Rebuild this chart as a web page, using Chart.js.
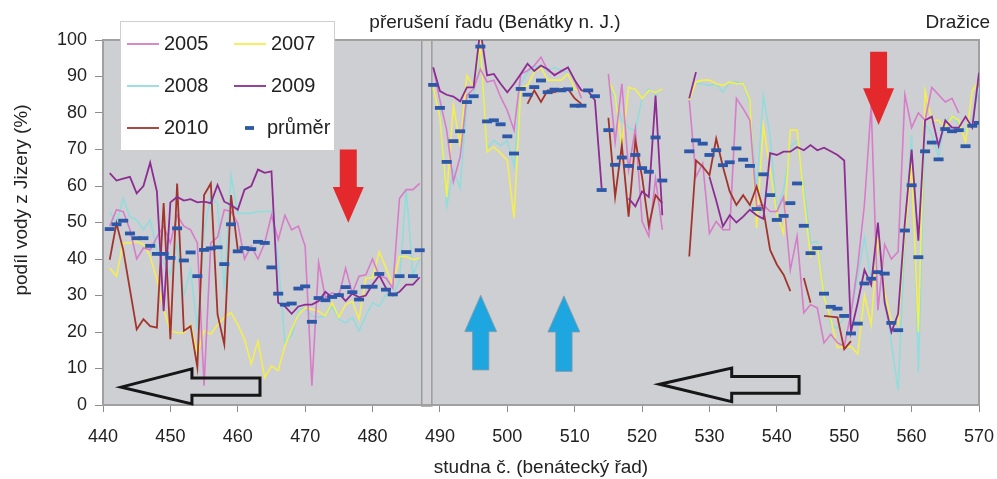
<!DOCTYPE html>
<html>
<head>
<meta charset="utf-8">
<script src="https://cdn.jsdelivr.net/npm/chart.js@4.4.1/dist/chart.umd.min.js"></script>
<style>
  html, body { margin: 0; padding: 0; background: #fff; }
  #wrap { width: 997px; height: 479px; position: relative; }
</style>
</head>
<body>
<div id="wrap"><canvas id="chart"></canvas></div>
<script>
const gap = n => Array(n).fill(null);

// well numbers 441..570 (488 and 524-526 have no data)
const wells = Array.from({length: 130}, (_, i) => 441 + i);

const y2005 = [
    49, 53.5, 53, 48, 40, 43, 42.5, 46, 49, 44.4,
    52, 49, 48, 44.4, 5.3, 44.4, 46, 53.5, 53, 49.8,
    40, 43.5, 40, 44.4, 52, 45.3, 52, 48, 49, 43.5,
    5.3, 39, 29.4, 30.7, 29.8, 37.5, 30.7, 35.3, 35.7, 40,
    35.3, 34.8, 32, 56.6, 59, 59, 60.7,
    null,
    92.5, 83.5, 75.3, 61.2, 68, 84.8, 86.6, 92, 88.5, 89,
    84.4, 80.7, 75.3, 90.7, 91.6, 93, 95.3, 91.6, 90.7, 91.2,
    92.5, 89, 84, null, null, null,
    90.7, 72, 88, 64.4, 75.7, 50.3, 46.2, 62, 48,
    null, null, null,
    83.5, 62.5, 66.2, 47, 50.3, 48, 48, 84, 81.2, 78,
    54.4, 54.8, 53, 53, 57, 37, 46.2, 25.3, 27.5, 26.6,
    17, 19.4, 17, 16.2, 25, 38, 55, 82, 26, 44,
    40, 42, 85, 76, 80, 78, 87, 85, 83, 84,
    80, null, null, null
];

const y2007 = [
    37.5, 35.3, 44.4, 44.4, 44.8, 44, 40.7, 34.4, 26.2, 20.3,
    19.8, 19.8, 22, 14, 20.3, 19.4, 22, 24, 25.3, 22,
    18, 11.2, 17.5, 7.5, 10.7, 9.4, 16.2, 20.7, 24.8, 26.6,
    26.2, 25.7, 24.4, 28, 24, 27.5, 28.4, 23.5, 34.8, 34.8,
    42, 37.5, 33, 40.7, 40.7, 39.8, 40.3,
    null,
    87, 79, 57, 82, 71.2, 90.3, 87, 98.5, 69.4, 70.7,
    69, 67, 51.2, 87, 87.5, 91.2, 92.5, 89, 89, 89,
    90.7, 86.6, 85.7, null, null, null,
    89, 84.8, 70.7, 87, 86.5, 84, 86.2, 85.5, 86.6,
    null, null, null,
    83.5, 88.5, 89, 89, 88, 87.5, 88.5, 88, 88, 83.5,
    48.5, 76.6, 64.4, 52.5, 47, 75.3, 75.3, 57, 40.7, 43.5,
    29.8, 23.5, 15.7, 16, 16, 14, 30, 22, 46, 31,
    23, 22, 47, 66, 20, 86, 78, 78, 76, 79,
    78, 72, 86, 89
];

const y2008 = [
    53, 49.8, 56.6, 51.6, 50.7, 48, 50.7, 42.5, 39, 36,
    44, 30, 37, 20.7, 48, 57, 55, 31.6, 63, 52.5,
    52.5, 52.5, 53, 53, 53, 40, 17, 19, 26, 26.6,
    24.4, 24, 24.4, 27, 23.5, 22.5, 24, 20.3, 24.4, 28,
    27, 30.3, 30, 34, 59, 35.7, 40,
    null,
    86.6, 80.7, 54.4, 64.4, 59.4, 83, 84.4, 97, 70.3, 72.5,
    71, 72.5, 65.3, 88, 91.2, 92.5, 93, 91.6, 92.5, 91.6,
    91.2, 86.2, null, null, null, null,
    88, 84, 78, 76, 75, 84, 86.6, 85, 86.6,
    null, null, null,
    null, 88, 88, 87.5, 88, 85.7, 88.5, 88.5, 88, 82.5,
    59, 84.8, 73.5, 53, 59, 70.7, 72.5, 59.8, 44.4, 44.8,
    31.2, 22, 21, 24, 25, 35, 46, 34, 45, 30,
    17, 4, 45, 74, 9, 77, 74, 68, 78, 79,
    77, 75, 78, 87
];

const y2009 = [
    63.5, 61.5, 62, 62.5, 58, 60, 66.4, 58.5, 25.7, 55.5,
    57, 56, 56.4, 55.5, 55.7, 55.3, 60.3, 55.7, 54.8, 53.5,
    59, 60, 64.5, 63.6, 64, 28, 27, 25, 27, 27.5,
    27.5, 28.5, 31, 29.5, 30.5, 28.5, 30.5, 29.5, 30, 33,
    35.5, 32, 30, 31, 33, 33, 35,
    null,
    92.5, 86, 85, 84.5, 83.2, 87, 87, 103, 90.3, 90.7,
    88, 85.7, 88, 90.7, 93.5, 91.5, 93, 92, 90.3, 91.5,
    92.5, 89, 86.2, 86, 83.5, 59.4,
    null, null, null,
    56.6, 54.4, 58.5, 57, 84.8, 52,
    null, null, null,
    84, 91.2, null, 62.5, 56, 49, 52, 50, 51.6, 53.5,
    52, 51, 69, 68.5, 69.4, 69.4, 70.7, 69.8, 71.2, 69.8,
    70.5, 69.5, 68.5, 67, 20, 28, 37, 33, 50, 28,
    20, 25, 50, 70, 45, 78, 79, 71, 78, 76,
    76, 79, 76, 91
];

const y2010 = [
    39.8, 49.8, 42.5, 31.6, 20.7, 23.5, 21.6, 21.2, 55.3, 18,
    60.7, 20.3, 21.6, 10.3, 57.5, 60.7, 24.8, 16.6, 57.5, 42.5,
    ...gap(27),
    null,
    ...gap(14),
    82.5, 86.2, 83, 86.2, 85.7, 86.6, 86.6, 84, 82.5,
    null, null, null,
    78.7, 57, 71.2, 51.6, 72.5, 62.5, 49, 57.5, 55.3,
    null, null, null,
    40.7, 67, 65.3, 63, 73, 65.3, 58.5, 54.8, 57.5, 54.8,
    59.8, 53.5, 42.5, 38.5, 35.7, 31.2, null, 34.8, 28, null,
    24.4, 24.2, 24, 15.3, 17.5,
    ...gap(19)
];

const prumer = [
    48.2, 49.5, 50.5, 47, 45.7, 45.7, 43.6, 41.4, 41.4, 40.3,
    48.4, 39.6, 41.8, 35.3, 42.5, 42.9, 43.2, 38.6, 49.5, 42.1,
    43, 42.7, 44.7, 44.4, 37.7, 30.5, 27.5, 27.8, 31.9, 32.5,
    22.8, 29.3, 28.7, 29.6, 30.1, 32.3, 30.9, 28.9, 32.4, 32.4,
    35.9, 31.6, 30.3, 35.3, 41.9, 35.3, 42.4,
    null,
    87.7, 81.4, 66.6, 72.3, 75, 83, 84.6, 98.2, 77.7, 78,
    76.9, 73.6, 68.9, 86.6, 85, 87.1, 88.9, 85.7, 86.4, 86.2,
    86.5, 82, 82, 86.2, 84.6, 58.9, 75.3, 65.8, 67.8, 65.5,
    68.5, 64.9, 63.9, 73.3, 61.5,
    null, null, null,
    69.5, 72.5, 71.6, 68.5, 69.8, 65.7, 66.5, 70.3, 67.2, 65.5,
    53.7, 63.2, 57.5, 50.7, 51.8, 55.3, 60.7, 49.1, 41.6, 43,
    30.5, 26.9, 26.4, 24.4, 19.6, 22.3, 33.3, 34.6, 36.4, 36,
    22.5, 20.5, 47.8, 60.2, 40.5, 69.5, 71.9, 67.3, 75.6, 75,
    75.3, 70.9, 76.5, 77.3
];

const xTicks = [440, 570, 10];
const yTicks = [0, 100, 10];

// arrows drawn over the plot (well number / percent)
const redArrows = [
    {x: 476.4, top: 70, neck: 59.7, tip: 49.9},
    {x: 555.1, top: 96.8, neck: 86.8, tip: 76.7}
];
const blueArrows = [
    {x: 496.05, tip: 30.1, neck: 20.1, bottom: 9.6},
    {x: 508.4, tip: 29.9, neck: 20.0, bottom: 9.2}
];
const leftArrows = [
    {tip: 442.7, neck: 453.2, end: 463.3, mid: 4.9, headTop: 9.9, headBot: 0.3, shaftTop: 7.4, shaftBot: 2.7},
    {tip: 522.6, neck: 533.3, end: 543.3, mid: 5.7, headTop: 10.1, headBot: 0.9, shaftTop: 7.8, shaftBot: 3.2}
];

const FONT = "'Liberation Sans', Arial, sans-serif";
const colors = {
    '2005': '#d67cc8',
    '2007': '#f4ee50',
    '2008': '#93dcdc',
    '2009': '#8d2c92',
    '2010': '#a3342c',
    'průměr': '#2d57a7'
};

const pts = vals => wells.map((w, i) => ({x: w, y: vals[i]}));
const lineSet = (label, vals, width) => ({
    label: label,
    data: pts(vals),
    borderColor: colors[label],
    backgroundColor: colors[label],
    borderWidth: width,
    pointRadius: 0,
    tension: 0
});

function poly(ctx, points) {
    ctx.beginPath();
    points.forEach((p, i) => i ? ctx.lineTo(p[0], p[1]) : ctx.moveTo(p[0], p[1]));
    ctx.closePath();
}

const decorations = {
    id: "decorations",
    beforeDatasetsDraw(chart) {
        const {ctx, chartArea: a, scales: {x}} = chart;
        ctx.save();
        ctx.fillStyle = "#cecfd3";
        ctx.fillRect(a.left, a.top, a.right - a.left, a.bottom - a.top);
        const s1 = x.getPixelForValue(487.3), s2 = x.getPixelForValue(488.8);
        ctx.fillStyle = "#d2d2d5";
        ctx.fillRect(s1, a.top, s2 - s1, a.bottom - a.top + 1);
        ctx.strokeStyle = "#9c9c9c";
        ctx.lineWidth = 1.5;
        ctx.strokeRect(s1, a.top, s2 - s1, a.bottom - a.top + 1);
        ctx.strokeStyle = "#a0a0a0";
        ctx.lineWidth = 2;
        ctx.strokeRect(a.left, a.top, a.right - a.left, a.bottom - a.top);
        ctx.restore();
    },
    afterDatasetsDraw(chart) {
        const {ctx, scales: {x, y}} = chart;
        ctx.save();
        redArrows.forEach(r => {
            const cx = x.getPixelForValue(r.x);
            const t = y.getPixelForValue(r.top), n = y.getPixelForValue(r.neck), p = y.getPixelForValue(r.tip);
            poly(ctx, [[cx - 8.5, t], [cx + 8.5, t], [cx + 8.5, n], [cx + 15.5, n], [cx, p], [cx - 15.5, n], [cx - 8.5, n]]);
            ctx.fillStyle = "#e3292b";
            ctx.fill();
        });
        blueArrows.forEach(b => {
            const cx = x.getPixelForValue(b.x);
            const t = y.getPixelForValue(b.tip), n = y.getPixelForValue(b.neck), bt = y.getPixelForValue(b.bottom);
            poly(ctx, [[cx, t], [cx + 16, n], [cx + 8.2, n], [cx + 8.2, bt], [cx - 8.2, bt], [cx - 8.2, n], [cx - 16, n]]);
            ctx.fillStyle = "#1ea6e0";
            ctx.fill();
            ctx.strokeStyle = "#8a9aa6";
            ctx.lineWidth = 0.8;
            ctx.stroke();
        });
        leftArrows.forEach(l => {
            const tx = x.getPixelForValue(l.tip), nx = x.getPixelForValue(l.neck), ex = x.getPixelForValue(l.end);
            poly(ctx, [
                [tx, y.getPixelForValue(l.mid)],
                [nx, y.getPixelForValue(l.headTop)],
                [nx, y.getPixelForValue(l.shaftTop)],
                [ex, y.getPixelForValue(l.shaftTop)],
                [ex, y.getPixelForValue(l.shaftBot)],
                [nx, y.getPixelForValue(l.shaftBot)],
                [nx, y.getPixelForValue(l.headBot)]
            ]);
            ctx.strokeStyle = "#161616";
            ctx.lineWidth = 3;
            ctx.lineJoin = "miter";
            ctx.stroke();
        });
        ctx.restore();
    },
    afterDraw(chart) {
        const ctx = chart.ctx;
        ctx.save();
        // legend box
        ctx.fillStyle = "#fff";
        ctx.fillRect(120, 21, 214, 129);
        ctx.strokeStyle = "#cfcfcf";
        ctx.lineWidth = 1;
        ctx.strokeRect(120.5, 21.5, 214, 129);
        const items = [["2005", 0, 0], ["2007", 1, 0], ["2008", 0, 1], ["2009", 1, 1], ["2010", 0, 2], ["průměr", 1, 2]];
        ctx.font = "20px " + FONT;
        ctx.textBaseline = "middle";
        ctx.textAlign = "left";
        items.forEach(([label, col, row]) => {
            const lx = col ? 234 : 127;
            const ly = 44 + row * 42;
            ctx.strokeStyle = colors[label];
            if (label === "průměr") {
                ctx.lineWidth = 3.8;
                ctx.beginPath(); ctx.moveTo(245, ly); ctx.lineTo(254, ly); ctx.stroke();
                ctx.fillStyle = "#222";
                ctx.fillText(label, 267, ly);
            } else {
                ctx.lineWidth = 1.8;
                ctx.beginPath(); ctx.moveTo(lx, ly); ctx.lineTo(lx + 32, ly); ctx.stroke();
                ctx.fillStyle = "#222";
                ctx.fillText(label, lx + 37, ly);
            }
        });
        ctx.font = "19px " + FONT;
        ctx.fillStyle = "#222";
        ctx.textAlign = "center";
        ctx.fillText("přerušení řadu (Benátky n. J.)", 495, 23);
        ctx.textAlign = "right";
        ctx.fillText("Dražice", 990, 23);
        // y axis title
        ctx.translate(22, 200);
        ctx.rotate(-Math.PI / 2);
        ctx.textAlign = "center";
        ctx.fillText("podíl vody z Jizery (%)", 0, 0);
        ctx.restore();
    }
};

new Chart(document.getElementById("chart"), {
    type: "line",
    data: {
        datasets: [
            {
                label: "průměr",
                data: pts(prumer),
                showLine: false,
                pointStyle: "line",
                pointRadius: 5,
                pointBorderWidth: 3.8,
                borderColor: colors["průměr"],
                backgroundColor: colors["průměr"]
            },
            lineSet("2009", y2009, 1.8),
            lineSet("2010", y2010, 1.8),
            lineSet("2005", y2005, 1.6),
            lineSet("2007", y2007, 1.6),
            lineSet("2008", y2008, 1.6)
        ]
    },
    options: {
        responsive: true,
        maintainAspectRatio: false,
        animation: false,
        layout: {padding: {top: 40, right: 18, left: 0, bottom: 0}},
        plugins: {legend: {display: false}, tooltip: {enabled: false}},
        scales: {
            x: {
                type: "linear",
                min: xTicks[0],
                max: xTicks[1],
                ticks: {stepSize: xTicks[2], color: "#222", font: {family: FONT, size: 18}, padding: 14, maxRotation: 0},
                grid: {drawOnChartArea: false, tickLength: 7, color: "#8c8c8c"},
                border: {display: false},
                title: {display: true, text: "studna č. (benátecký řad)", color: "#222", font: {family: FONT, size: 19}, padding: {top: 0, bottom: 0}},
                afterFit: scale => {
                    scale.height = 74;
                    scale.paddingLeft = 0;
                    scale.paddingRight = 0;
                }
            },
            y: {
                min: yTicks[0],
                max: yTicks[1],
                ticks: {stepSize: yTicks[2], color: "#222", font: {family: FONT, size: 18}, padding: 8},
                grid: {drawOnChartArea: false, tickLength: 8, color: "#8c8c8c"},
                border: {display: false},
                afterFit: scale => {
                    scale.width = 103;
                    scale.paddingTop = 0;
                    scale.paddingBottom = 0;
                }
            }
        }
    },
    plugins: [decorations]
});
</script>
</body>
</html>
